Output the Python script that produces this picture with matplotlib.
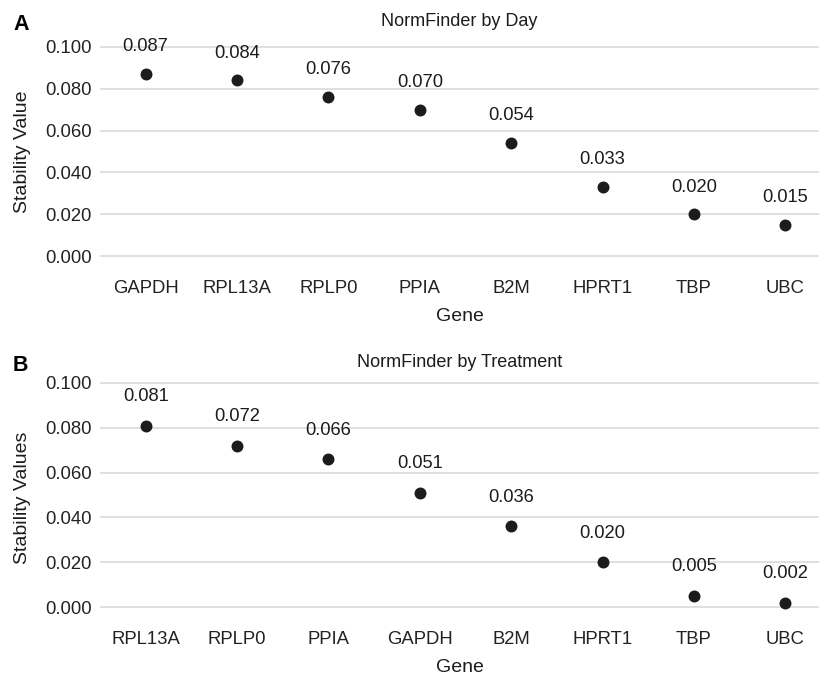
import matplotlib
matplotlib.use('Agg')
import matplotlib.pyplot as plt

# NormFinder stability values
day_genes = ['GAPDH', 'RPL13A', 'RPLP0', 'PPIA', 'B2M', 'HPRT1', 'TBP', 'UBC']
day_values = [0.087, 0.084, 0.076, 0.070, 0.054, 0.033, 0.020, 0.015]

treat_genes = ['RPL13A', 'RPLP0', 'PPIA', 'GAPDH', 'B2M', 'HPRT1', 'TBP', 'UBC']
treat_values = [0.081, 0.072, 0.066, 0.051, 0.036, 0.020, 0.005, 0.002]

y_ticks = [0.0, 0.02, 0.04, 0.06, 0.08, 0.10]

plt.rcParams['font.family'] = ['Liberation Sans', 'DejaVu Sans']

fig = plt.figure(figsize=(8.19, 6.82), dpi=100)

# axes boxes in figure fractions
ax_a = fig.add_axes([0.1221, 0.6123, 0.878, 0.3311])
ax_b = fig.add_axes([0.1221, 0.0968, 0.878, 0.3466])


def draw_panel(ax, genes, values, title, ylabel, letter, ytop):
    x = list(range(len(genes)))
    # horizontal grid only, like theme_minimal
    for t in y_ticks:
        ax.axhline(t, color='#dadada', lw=1.2, zorder=0)
    ax.scatter(x, values, s=74, color='#1c1c1c', zorder=3, linewidths=0)
    # value labels above each point
    for xi, v in zip(x, values):
        ax.text(xi, v + 0.013, f'{v:.3f}', ha='center', va='center',
                fontsize=13.2, color='#1c1c1c')
    ax.set_xlim(-0.5, 7.37)
    ax.set_ylim(-0.004, ytop)
    ax.set_xticks(x)
    ax.set_xticklabels(genes)
    ax.set_yticks(y_ticks)
    ax.set_yticklabels([f'{t:.3f}' for t in y_ticks])
    ax.tick_params(length=0, labelsize=13.3, labelcolor='#222222')
    ax.tick_params(axis='x', pad=11)
    ax.tick_params(axis='y', pad=6)
    for s in ax.spines.values():
        s.set_visible(False)
    ax.set_title(title, fontsize=13, pad=9, color='#1c1c1c')
    ax.set_xlabel('Gene', fontsize=14, labelpad=8, color='#1c1c1c')
    ax.set_ylabel(ylabel, fontsize=14, labelpad=10, color='#1c1c1c')
    ax.annotate(letter, xy=(0.0, 1.0), xycoords='axes fraction',
                xytext=(-87, 14), textcoords='offset pixels', fontsize=15.5,
                fontweight='bold', ha='left', va='center')


draw_panel(ax_a, day_genes, day_values, 'NormFinder by Day', 'Stability Value', 'A', 0.104)
draw_panel(ax_b, treat_genes, treat_values, 'NormFinder by Treatment', 'Stability Values', 'B', 0.1015)

fig.savefig('out.png', dpi=100)
